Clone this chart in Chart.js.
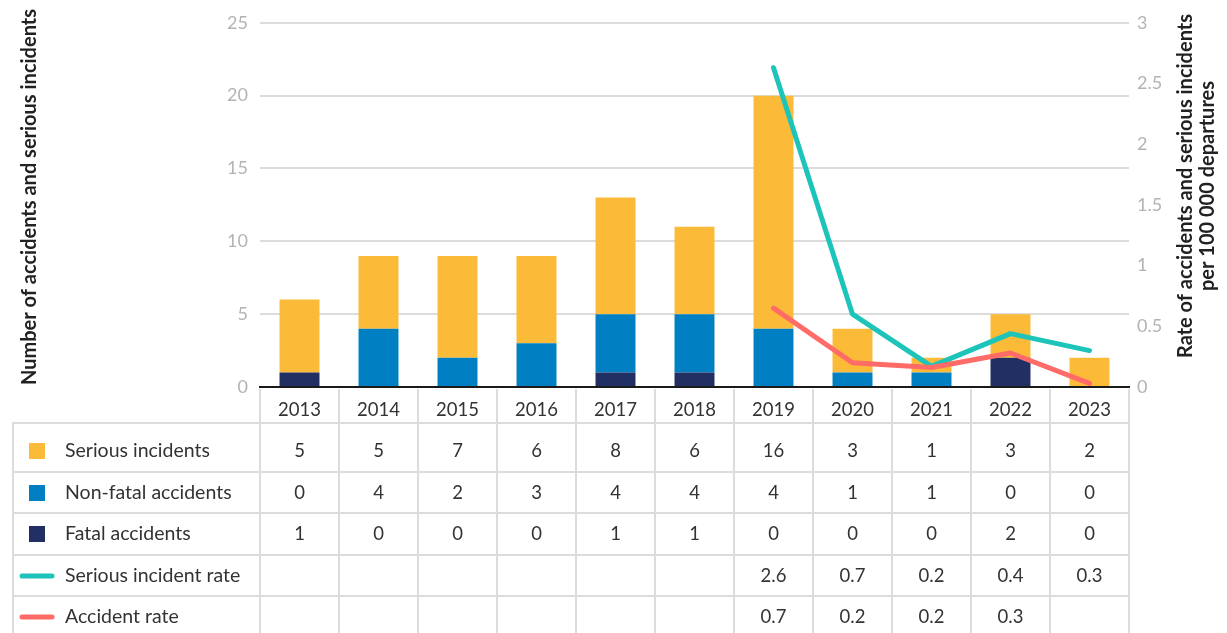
<!DOCTYPE html>
<html>
<head>
  <meta charset="UTF-8">
  <title>Accidents and serious incidents</title>
  <script src="https://cdn.jsdelivr.net/npm/chart.js"></script>
  <style>
    body { margin: 0; background: #fff; }
    canvas { display: block; }
  </style>
</head>
<body>

<canvas id="chart" width="1227" height="633"></canvas>

<script>
  const years = ['2013', '2014', '2015', '2016', '2017', '2018', '2019', '2020', '2021', '2022', '2023'];
  const seriousIncidents = [5, 5, 7, 6, 8, 6, 16, 3, 1, 3, 2];
  const nonFatalAccidents = [0, 4, 2, 3, 4, 4, 4, 1, 1, 0, 0];
  const fatalAccidents = [1, 0, 0, 0, 1, 1, 0, 0, 0, 2, 0];
  const seriousRate = [null, null, null, null, null, null, 2.63, 0.6, 0.17, 0.44, 0.3];
  const accidentRate = [null, null, null, null, null, null, 0.65, 0.2, 0.16, 0.28, 0.03];
  const seriousRateLabels = ['', '', '', '', '', '', '2.6', '0.7', '0.2', '0.4', '0.3'];
  const accidentRateLabels = ['', '', '', '', '', '', '0.7', '0.2', '0.2', '0.3', ''];

  const YELLOW = '#fbbb39';
  const BLUE = '#0080c3';
  const NAVY = '#222f63';
  const TEAL = '#1cc4b9';
  const SALMON = '#ff6b66';
  const GRID = '#dcdcdc';

  Chart.defaults.font.family = 'Lato, sans-serif';

  // table under the plot, plus both axis titles
  const tablePlugin = {
    id: 'tablePlugin',
    afterDraw(chart) {
      const ctx = chart.ctx;
      const x = chart.scales.x;
      const area = chart.chartArea;
      const step = (area.right - area.left) / years.length;
      const rowLines = [423, 472, 513, 555, 596];
      const rowCenters = [451, 493, 534, 576, 617];
      const rows = [
        { label: 'Serious incidents', type: 'box', color: YELLOW, values: seriousIncidents.map(String) },
        { label: 'Non-fatal accidents', type: 'box', color: BLUE, values: nonFatalAccidents.map(String) },
        { label: 'Fatal accidents', type: 'box', color: NAVY, values: fatalAccidents.map(String) },
        { label: 'Serious incident rate', type: 'line', color: TEAL, values: seriousRateLabels },
        { label: 'Accident rate', type: 'line', color: SALMON, values: accidentRateLabels }
      ];

      ctx.save();
      ctx.strokeStyle = GRID;
      ctx.lineWidth = 2;
      // vertical lines
      for (let i = 0; i <= years.length; i++) {
        const lx = Math.round(area.left + i * step);
        ctx.beginPath();
        ctx.moveTo(lx, area.bottom + 2);
        ctx.lineTo(lx, 633);
        ctx.stroke();
      }
      ctx.beginPath();
      ctx.moveTo(13, rowLines[0]);
      ctx.lineTo(13, 633);
      ctx.stroke();
      rowLines.forEach(y => {
        ctx.beginPath();
        ctx.moveTo(12, y);
        ctx.lineTo(area.right, y);
        ctx.stroke();
      });

      ctx.textBaseline = 'middle';
      rows.forEach((row, r) => {
        const cy = rowCenters[r];
        if (row.type === 'box') {
          ctx.fillStyle = row.color;
          ctx.fillRect(29, cy - 8, 16, 16);
        } else {
          ctx.strokeStyle = row.color;
          ctx.lineWidth = 5;
          ctx.lineCap = 'round';
          ctx.beginPath();
          ctx.moveTo(22, cy);
          ctx.lineTo(52, cy);
          ctx.stroke();
        }
        ctx.fillStyle = '#333';
        ctx.textAlign = 'left';
        ctx.font = '19.5px Lato, sans-serif';
        ctx.fillText(row.label, 65, cy);
        ctx.textAlign = 'center';
        ctx.font = '18.5px Lato, sans-serif';
        row.values.forEach((v, i) => {
          ctx.fillText(v, x.getPixelForValue(i), cy);
        });
      });

      // axis titles
      ctx.fillStyle = '#222';
      ctx.font = 'bold 20px Lato, sans-serif';
      ctx.textAlign = 'center';
      ctx.save();
      ctx.translate(30, 197);
      ctx.rotate(-Math.PI / 2);
      ctx.fillText('Number of accidents and serious incidents', 0, 0);
      ctx.restore();
      ctx.save();
      ctx.translate(1186, 186);
      ctx.rotate(-Math.PI / 2);
      ctx.fillText('Rate of accidents and serious incidents', 0, 0);
      ctx.restore();
      ctx.save();
      ctx.translate(1208, 186);
      ctx.rotate(-Math.PI / 2);
      ctx.fillText('per 100 000 departures', 0, 0);
      ctx.restore();
      ctx.restore();
    }
  };

  const chart = new Chart(document.getElementById('chart'), {
    type: 'bar',
    data: {
      labels: years,
      datasets: [
        { type: 'line', label: 'Accident rate', data: accidentRate, yAxisID: 'y1', borderColor: SALMON, borderWidth: 5, borderCapStyle: 'round', borderJoinStyle: 'round', pointRadius: 0, fill: false, order: 0 },
        { type: 'line', label: 'Serious incident rate', data: seriousRate, yAxisID: 'y1', borderColor: TEAL, borderWidth: 5, borderCapStyle: 'round', borderJoinStyle: 'round', pointRadius: 0, fill: false, order: 0 },
        { label: 'Fatal accidents', data: fatalAccidents, backgroundColor: NAVY, stack: 's', order: 1 },
        { label: 'Non-fatal accidents', data: nonFatalAccidents, backgroundColor: BLUE, stack: 's', order: 1 },
        { label: 'Serious incidents', data: seriousIncidents, backgroundColor: YELLOW, stack: 's', order: 1 }
      ]
    },
    options: {
      responsive: false,
      animation: false,
      layout: { padding: { top: 22, left: 0, right: 0, bottom: 0 } },
      datasets: { bar: { barPercentage: 0.506, categoryPercentage: 1 } },
      plugins: { legend: { display: false }, tooltip: { enabled: false } },
      scales: {
        x: {
          stacked: true,
          grid: { display: false, drawTicks: false },
          border: { display: true, color: '#1a1a1a', width: 2 },
          ticks: { color: '#333', font: { size: 18.5 }, padding: 12 },
          afterFit(scale) { scale.height = 246; }
        },
        y: {
          stacked: true,
          min: 0,
          max: 25,
          ticks: { stepSize: 5, color: '#b3b3b3', font: { size: 18 }, padding: 12 },
          grid: { color: GRID, lineWidth: 2, drawTicks: false },
          border: { display: false },
          afterFit(scale) { scale.width = 260; }
        },
        y1: {
          position: 'right',
          min: 0,
          max: 3,
          ticks: { stepSize: 0.5, color: '#b3b3b3', font: { size: 18 }, padding: 8, callback: v => String(v) },
          grid: { display: false, drawTicks: false },
          border: { display: false },
          afterFit(scale) { scale.width = 98; }
        }
      }
    },
    plugins: [tablePlugin]
  });
</script>

</body>
</html>
